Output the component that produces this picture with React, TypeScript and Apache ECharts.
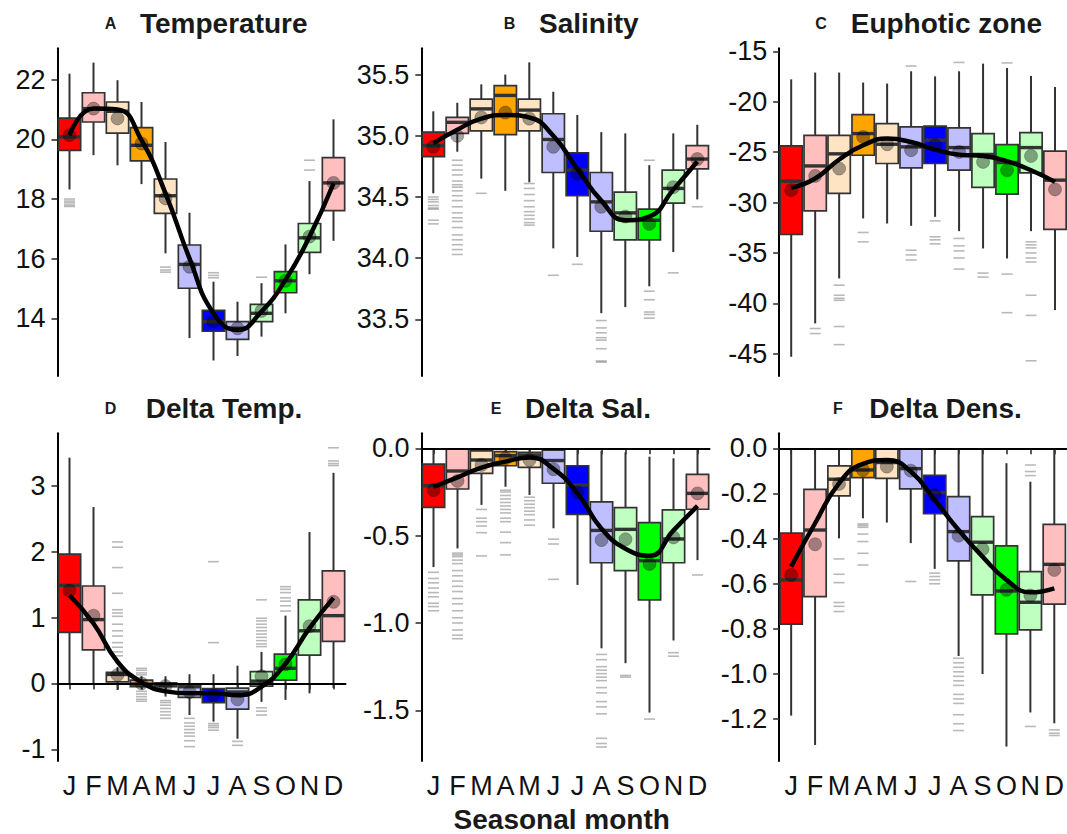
import React, { useEffect, useRef } from "react";
import * as echarts from "echarts";

const months = ["J", "F", "M", "A", "M", "J", "J", "A", "S", "O", "N", "D"];
const monthColors = ["#FF0000", "#FFBFBF", "#FFE4C4", "#FFA500", "#FFE4C4", "#BFBFFF", "#0000FF", "#BFBFFF", "#BFFFBF", "#00FF00", "#BFFFBF", "#FFBFBF"];

// box stats per month: [low whisker, q1, median, q3, high whisker]
const tempBoxes = [
  [18.32, 19.63, 20.08, 20.71, 22.2], [19.47, 20.58, 21.03, 21.56, 22.57], [19.13, 20.21, 20.94, 21.25, 21.98],
  [18.5, 19.28, 19.8, 20.39, 21.25], [16.18, 17.52, 18.11, 18.67, 19.91], [13.34, 15.01, 15.81, 16.46, 17.54],
  [12.59, 13.57, 13.89, 14.27, 15.23], [12.74, 13.3, 13.67, 13.89, 14.56], [13.39, 13.89, 14.17, 14.47, 15.18],
  [14.17, 14.86, 15.26, 15.57, 16.48], [15.48, 16.21, 16.7, 17.18, 18.6], [16.6, 17.61, 18.54, 19.39, 20.67],
];
const tempMeans = [20.14, 21.03, 20.7, 19.86, 18.02, 15.73, 13.89, 13.67, 14.25, 15.26, 16.74, 18.54];
const tempSmooth = [20.14, 21.03, 21.0, 19.97, 18.19, 16.01, 14.17, 13.61, 14.23, 15.29, 16.74, 18.52];
const tempOutliers = [[18.0, 17.93, 17.87, 17.8, 17.75], [], [], [], [15.72, 15.62, 15.55], [], [15.53, 15.44, 15.36], [], [15.38], [], [19.3, 18.97], []];
const tempTicks = [14, 16, 18, 20, 22];

const salBoxes = [
  [34.53, 34.83, 34.92, 35.03, 35.2], [34.87, 35.02, 35.11, 35.15, 35.27], [34.65, 35.04, 35.22, 35.3, 35.42],
  [34.55, 35.01, 35.33, 35.41, 35.5], [34.62, 35.04, 35.21, 35.3, 35.6], [34.08, 34.7, 34.97, 35.18, 35.36],
  [34.01, 34.51, 34.72, 34.86, 35.17], [33.55, 34.22, 34.46, 34.7, 35.03], [33.6, 34.15, 34.37, 34.54, 35.02],
  [33.77, 34.15, 34.31, 34.4, 34.76], [34.05, 34.45, 34.57, 34.72, 35.02], [34.48, 34.73, 34.81, 34.92, 35.09],
];
const salMeans = [34.91, 35.0, 35.15, 35.19, 35.14, 34.91, 34.69, 34.42, 34.34, 34.28, 34.58, 34.81];
const salSmooth = [34.94, 35.05, 35.14, 35.17, 35.15, 35.0, 34.73, 34.47, 34.31, 34.34, 34.56, 34.79];
const salOutliers = [
  [34.5, 34.48, 34.46, 34.43, 34.41, 34.4, 34.31, 34.28],
  [34.8, 34.76, 34.72, 34.68, 34.63, 34.6, 34.58, 34.55, 34.51, 34.47, 34.42, 34.37, 34.33, 34.3, 34.25, 34.19, 34.15, 34.11, 34.07, 34.03],
  [34.53], [],
  [34.61, 34.57, 34.52, 34.47, 34.42, 34.38, 34.35, 34.32, 34.29, 34.27],
  [33.86], [33.95],
  [33.49, 33.43, 33.39, 33.35, 33.33, 33.26, 33.16, 33.15],
  [], [34.8, 33.73, 33.66, 33.56, 33.54, 33.51], [33.88], [34.42],
];
const salTicks = [33.5, 34.0, 34.5, 35.0, 35.5];

const euBoxes = [
  [-45.3, -33.17, -27.88, -24.38, -17.78], [-41.99, -30.83, -26.37, -23.33, -17.11], [-37.53, -29.1, -25.17, -23.33, -17.11],
  [-31.58, -25.31, -23.16, -21.27, -18.1], [-32.08, -26.13, -24.22, -22.17, -18.2], [-32.31, -26.56, -24.48, -22.5, -16.98],
  [-31.42, -26.13, -23.82, -22.43, -17.48], [-32.84, -26.79, -24.55, -22.6, -16.98], [-34.56, -28.5, -25.23, -23.16, -16.22],
  [-35.55, -29.17, -26.03, -24.25, -16.65], [-32.84, -27.06, -24.55, -23.06, -17.44], [-40.67, -32.67, -27.78, -24.91, -18.54],
];
const euMeans = [-28.78, -27.36, -26.63, -23.49, -24.22, -24.81, -24.32, -24.98, -25.97, -26.8, -25.38, -28.7];
const euSmooth = [-28.55, -27.62, -25.73, -24.32, -23.66, -24.0, -24.75, -25.25, -25.38, -25.9, -26.8, -27.95];
const euOutliers = [
  [], [-42.5, -43.0], [-38.2, -39.2, -39.5, -39.7, -42.3, -44.1], [-32.97, -33.9], [],
  [-16.46, -34.73, -35.2, -35.7], [-31.82, -33.4, -33.7, -34.1], [-16.1, -33.56, -34.3, -34.8, -35.5, -36.6],
  [-37.0, -37.4], [-16.15, -37.1, -40.93], [-33.9, -34.2, -34.5, -35.0, -35.5, -35.9, -39.2, -41.2, -45.7], [],
];
const euTicks = [-45, -40, -35, -30, -25, -20, -15];

const dTempBoxes = [
  [0.0, 0.775, 1.49, 1.965, 3.43], [0.0, 0.51, 0.97, 1.48, 2.68], [-0.1, 0.024, 0.137, 0.167, 0.25],
  [-0.08, -0.05, -0.01, 0.05, 0.11], [-0.2, -0.05, -0.03, 0.01, 0.11], [-0.48, -0.21, -0.05, -0.01, 0.14],
  [-0.58, -0.29, -0.15, -0.08, 0.14], [-0.84, -0.39, -0.13, -0.07, 0.27], [-0.28, -0.04, 0.035, 0.18, 0.48],
  [-0.25, 0.05, 0.23, 0.445, 1.03], [-0.15, 0.43, 0.8, 1.27, 2.3], [-0.07, 0.64, 1.03, 1.71, 3.2],
];
const dTempMeans = [1.41, 1.03, 0.13, 0.0, -0.04, -0.13, -0.18, -0.24, 0.11, 0.29, 0.87, 1.24];
const dTempSmooth = [1.34, 0.91, 0.33, 0.02, -0.12, -0.15, -0.15, -0.18, -0.05, 0.3, 0.84, 1.3];
const dTempOutliers = [
  [], [],
  [2.15, 2.07, 1.76, 1.37, 1.12, 1.07, 1.02, 0.9, 0.8, 0.72, 0.62, 0.55, 0.48, 0.42],
  [0.23, 0.2, 0.16, 0.13, -0.12, -0.16, -0.2, -0.24, -0.27],
  [-0.26, -0.29, -0.33, -0.38, -0.43, -0.48, -0.53],
  [-0.53, -0.6, -0.65, -0.7, -0.75, -0.8, -0.87, -0.96],
  [1.85, 0.62, -0.61, -0.64, -0.67, -0.71],
  [-0.88, -0.94],
  [1.27, 0.99, 0.95, 0.9, 0.85, 0.8, 0.75, 0.7, 0.65, 0.6, 0.56, -0.37, -0.42, -0.48],
  [1.47, 1.43, 1.38, 1.3, 1.25, 1.18, 1.1],
  [], [3.58, 3.38, 3.34, 3.31],
];
const dTempTicks = [-1, 0, 1, 2, 3];

const dSalBoxes = [
  [-0.68, -0.338, -0.214, -0.09, 0.0], [-0.573, -0.233, -0.13, -0.004, 0.0], [-0.324, -0.143, -0.067, -0.015, 0.0],
  [-0.22, -0.1, -0.042, -0.019, 0.0], [-0.267, -0.109, -0.038, -0.023, 0.0], [-0.458, -0.2, -0.07, -0.01, 0.0],
  [-0.782, -0.378, -0.21, -0.1, 0.0], [-1.145, -0.655, -0.47, -0.307, -0.015], [-1.23, -0.7, -0.464, -0.34, -0.023],
  [-1.513, -0.868, -0.643, -0.426, -0.048], [-1.1, -0.655, -0.519, -0.353, -0.057], [-0.64, -0.349, -0.258, -0.149, 0.0],
];
const dSalMeans = [-0.239, -0.187, -0.095, -0.057, -0.067, -0.12, -0.252, -0.525, -0.521, -0.662, -0.51, -0.258];
const dSalSmooth = [-0.22, -0.166, -0.11, -0.076, -0.052, -0.118, -0.258, -0.46, -0.575, -0.615, -0.47, -0.33];
const dSalOutliers = [
  [-0.71, -0.745, -0.77, -0.8, -0.826, -0.85, -0.887, -0.906, -0.93],
  [-0.6, -0.61, -0.62, -0.64, -0.66, -0.7, -0.73, -0.76, -0.79, -0.82, -0.86, -0.89, -0.93, -0.97, -1.0, -1.04, -1.07, -1.09],
  [-0.35, -0.4, -0.42, -0.445, -0.483, -0.616],
  [-0.24, -0.25, -0.27, -0.29, -0.31, -0.33, -0.35, -0.37, -0.4, -0.42, -0.48, -0.54, -0.61],
  [-0.28, -0.3, -0.32, -0.34, -0.36, -0.38, -0.41, -0.44],
  [-0.52, -0.548, -0.75],
  [],
  [-1.18, -1.21, -1.25, -1.27, -1.29, -1.31, -1.33, -1.37, -1.4, -1.45, -1.48, -1.52, -1.66, -1.69, -1.71],
  [-1.3, -1.31], [-1.55], [-1.17, -1.19], [-0.725],
];
const dSalTicks = [-1.5, -1.0, -0.5, 0.0];

const dDensBoxes = [
  [-1.184, -0.779, -0.583, -0.376, 0.0], [-1.314, -0.657, -0.362, -0.182, 0.0], [-0.399, -0.211, -0.137, -0.078, 0.0],
  [-0.31, -0.13, -0.096, -0.003, 0.0], [-0.329, -0.133, -0.063, -0.003, 0.0], [-0.42, -0.18, -0.09, -0.003, 0.0],
  [-0.534, -0.29, -0.196, -0.12, 0.0], [-0.92, -0.499, -0.369, -0.214, 0.0], [-1.0, -0.649, -0.416, -0.303, 0.0],
  [-1.321, -0.822, -0.632, -0.432, -0.066], [-1.17, -0.804, -0.682, -0.546, -0.148], [-1.218, -0.69, -0.514, -0.337, 0.0],
];
const dDensMeans = [-0.561, -0.425, -0.158, -0.096, -0.081, -0.099, -0.207, -0.387, -0.447, -0.627, -0.652, -0.539];
const dDensSmooth = [-0.524, -0.332, -0.155, -0.069, -0.052, -0.103, -0.229, -0.362, -0.48, -0.583, -0.638, -0.62];
const dDensOutliers = [
  [], [],
  [-0.49, -0.558, -0.595, -0.683, -0.7, -0.723],
  [-0.335, -0.342, -0.35, -0.38, -0.413, -0.465, -0.517],
  [], [-0.59],
  [-0.553, -0.568, -0.583, -0.6],
  [-0.93, -0.95, -0.97, -0.99, -1.01, -1.03, -1.05, -1.09, -1.11, -1.13, -1.18, -1.22, -1.25],
  [], [],
  [-0.074, -0.103, -0.121, -1.232],
  [-1.247, -1.262, -1.272],
];
const dDensTicks = [-1.2, -1.0, -0.8, -0.6, -0.4, -0.2, 0.0];

const FONT = '"Liberation Sans", Arial, Helvetica, sans-serif';

type Panel = {
  letter: string; title: string; boxes: number[][]; means: number[]; smooth: number[]; outliers: number[][];
  ticks: number[]; min: number; max: number; decimals: number; zero: boolean;
  left: number; top: number; letterX: number; titleX: number; titleY: number; bottom: boolean;
};

const panels: Panel[] = [
  { letter: "A", title: "Temperature", boxes: tempBoxes, means: tempMeans, smooth: tempSmooth, outliers: tempOutliers, ticks: tempTicks, min: 12.07, max: 23.05, decimals: 0, zero: false, left: 57.5, top: 48.3, letterX: 110.5, titleX: 140, titleY: 23.3, bottom: false },
  { letter: "B", title: "Salinity", boxes: salBoxes, means: salMeans, smooth: salSmooth, outliers: salOutliers, ticks: salTicks, min: 33.037, max: 35.715, decimals: 1, zero: false, left: 421.3, top: 48.3, letterX: 509.5, titleX: 539, titleY: 23.3, bottom: false },
  { letter: "C", title: "Euphotic zone", boxes: euBoxes, means: euMeans, smooth: euSmooth, outliers: euOutliers, ticks: euTicks, min: -47.21, max: -14.7, decimals: 0, zero: false, left: 779.2, top: 48.3, letterX: 821, titleX: 850.7, titleY: 23.3, bottom: false },
  { letter: "D", title: "Delta Temp.", boxes: dTempBoxes, means: dTempMeans, smooth: dTempSmooth, outliers: dTempOutliers, ticks: dTempTicks, min: -1.178, max: 3.8, decimals: 0, zero: true, left: 57.5, top: 433.3, letterX: 110.5, titleX: 145.7, titleY: 408.3, bottom: true },
  { letter: "E", title: "Delta Sal.", boxes: dSalBoxes, means: dSalMeans, smooth: dSalSmooth, outliers: dSalOutliers, ticks: dSalTicks, min: -1.79, max: 0.0859, decimals: 1, zero: true, left: 421.5, top: 433.3, letterX: 496, titleX: 525, titleY: 408.3, bottom: true },
  { letter: "F", title: "Delta Dens.", boxes: dDensBoxes, means: dDensMeans, smooth: dDensSmooth, outliers: dDensOutliers, ticks: dDensTicks, min: -1.385, max: 0.0664, decimals: 1, zero: true, left: 779.2, top: 433.3, letterX: 838, titleX: 869.3, titleY: 408.3, bottom: true },
];

const PW = 288;
const PH = 327.7;

function buildOption() {
  const grid: any[] = [];
  const xAxis: any[] = [];
  const yAxis: any[] = [];
  const series: any[] = [];
  const graphic: any[] = [];

  panels.forEach((p, gi) => {
    grid.push({ left: p.left, top: p.top, width: PW, height: PH, containLabel: false });
    xAxis.push({
      type: "category", gridIndex: gi, data: months, show: p.bottom,
      axisLine: { show: true, lineStyle: { color: "#000", width: 2 } },
      axisTick: { show: true, alignWithLabel: true, length: 6, lineStyle: { color: "#333", width: 1.6 } },
      axisLabel: { show: true, interval: 0, fontSize: 27, margin: 11, color: "#111", fontFamily: FONT },
      splitLine: { show: false },
    });
    const fmt = (v: number) => (p.decimals > 0 ? v.toFixed(p.decimals) : String(Math.round(v)));
    yAxis.push({
      type: "value", gridIndex: gi, min: p.min, max: p.max, scale: true,
      axisLine: { show: true, onZero: false, lineStyle: { color: "#000", width: 2 } },
      axisTick: { show: true, length: 6, customValues: p.ticks, lineStyle: { color: "#333", width: 1.6 } },
      axisLabel: { show: true, customValues: p.ticks, fontSize: 27, margin: 12, color: "#111", fontFamily: FONT, formatter: fmt },
      splitLine: { show: false },
    });

    // outliers
    const outData: number[][] = [];
    p.outliers.forEach((arr, i) => arr.forEach((v) => outData.push([i, v])));
    series.push({
      type: "scatter", xAxisIndex: gi, yAxisIndex: gi, data: outData, symbol: "rect", symbolSize: [11, 1.6],
      itemStyle: { color: "rgba(60,60,60,0.45)" }, silent: true, z: 1,
    });

    // boxes
    series.push({
      type: "custom", xAxisIndex: gi, yAxisIndex: gi, z: 2, silent: true,
      data: p.boxes.map((b, i) => [i, b[0], b[1], b[2], b[3], b[4]]),
      renderItem: (params: any, api: any) => {
        const i = api.value(0);
        const lo = api.coord([i, api.value(1)]);
        const q1 = api.coord([i, api.value(2)]);
        const md = api.coord([i, api.value(3)]);
        const q3 = api.coord([i, api.value(4)]);
        const hi = api.coord([i, api.value(5)]);
        const bw = api.size([1, 0])[0] * 0.93;
        const x = lo[0];
        const stroke = "#333333";
        return {
          type: "group",
          children: [
            { type: "line", shape: { x1: x, y1: hi[1], x2: x, y2: q3[1] }, style: { stroke, lineWidth: 2 } },
            { type: "line", shape: { x1: x, y1: q1[1], x2: x, y2: lo[1] }, style: { stroke, lineWidth: 2 } },
            { type: "rect", shape: { x: x - bw / 2, y: q3[1], width: bw, height: q1[1] - q3[1] }, style: { fill: monthColors[i], stroke, lineWidth: 1.7 } },
            { type: "line", shape: { x1: x - bw / 2, y1: md[1], x2: x + bw / 2, y2: md[1] }, style: { stroke, lineWidth: 3.4 } },
          ],
        };
      },
    });

    // means
    const meanSeries: any = {
      type: "scatter", xAxisIndex: gi, yAxisIndex: gi, z: 3, silent: true,
      data: p.means.map((v, i) => [i, v]), symbol: "circle", symbolSize: 13,
      itemStyle: { color: "rgba(0,0,0,0.45)", borderColor: "rgba(0,0,0,0.3)", borderWidth: 1 },
    };
    if (p.zero) {
      meanSeries.markLine = {
        silent: true, symbol: ["none", "none"], label: { show: false },
        lineStyle: { color: "#000", width: 2, type: "solid" }, data: [{ yAxis: 0 }],
      };
    }
    series.push(meanSeries);

    // smooth fit
    series.push({
      type: "line", xAxisIndex: gi, yAxisIndex: gi, z: 4, silent: true, data: p.smooth, smooth: 0.5,
      symbol: "none", showSymbol: false, lineStyle: { color: "#000", width: 4.5 },
    });

    graphic.push({
      type: "text", x: p.letterX, y: p.titleY,
      style: { text: p.letter, font: `bold 16px ${FONT}`, fill: "#1a1a1a", align: "center", verticalAlign: "middle" },
    });
    graphic.push({
      type: "text", x: p.titleX, y: p.titleY,
      style: { text: p.title, font: `bold 28px ${FONT}`, fill: "#1a1a1a", align: "left", verticalAlign: "middle" },
    });
  });

  graphic.push({
    type: "text", x: 561.7, y: 819.5,
    style: { text: "Seasonal month", font: `bold 28px ${FONT}`, fill: "#1a1a1a", align: "center", verticalAlign: "middle" },
  });

  return { animation: false, backgroundColor: "#ffffff", grid, xAxis, yAxis, series, graphic };
}

export default function App() {
  const ref = useRef<HTMLDivElement>(null);
  useEffect(() => {
    if (!ref.current) return;
    const chart = echarts.init(ref.current, undefined, { renderer: "svg" });
    chart.setOption(buildOption() as any);
    return () => chart.dispose();
  }, []);
  return <div ref={ref} style={{ position: "absolute", left: 0, top: 0, width: 1067, height: 834, background: "#fff" }} />;
}
